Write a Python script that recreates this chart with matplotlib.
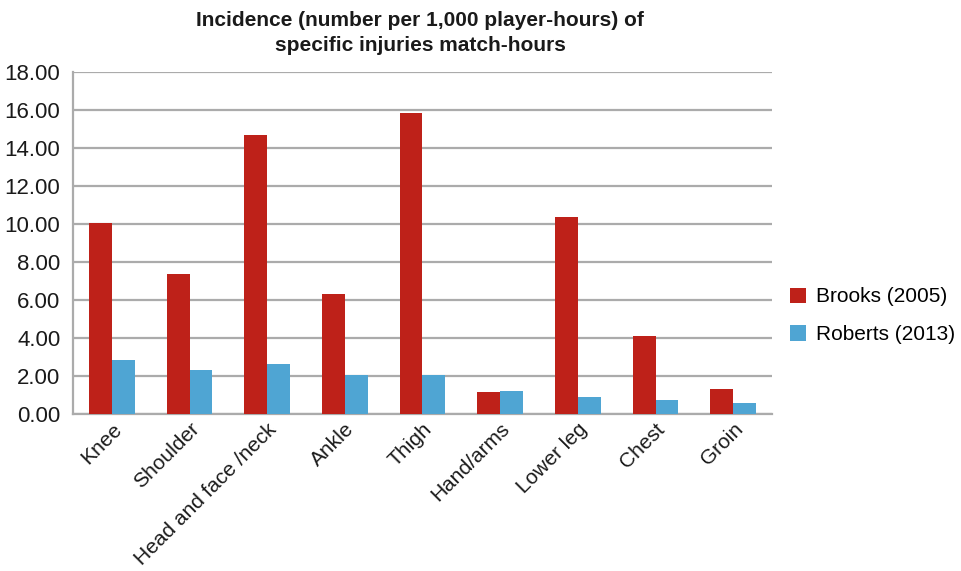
import numpy as np
import matplotlib.pyplot as plt

# Incidence of specific injuries per 1,000 match-hours
categories = ["Knee", "Shoulder", "Head and face /neck", "Ankle", "Thigh",
              "Hand/arms", "Lower leg", "Chest", "Groin"]
brooks_2005 = [10.03, 7.37, 14.67, 6.32, 15.84, 1.16, 10.37, 4.10, 1.32]
roberts_2013 = [2.84, 2.32, 2.63, 2.05, 2.05, 1.21, 0.89, 0.74, 0.58]
series_names = ["Brooks (2005)", "Roberts (2013)"]
y_ticks = [0, 2, 4, 6, 8, 10, 12, 14, 16, 18]

plt.rcParams['font.family'] = ['Liberation Sans', 'DejaVu Sans']

RED = '#BE2119'
BLUE = '#4FA5D3'
GRID = '#ABABAB'
TEXT = '#1a1a1a'

fig = plt.figure(figsize=(9.61, 5.71), dpi=100)
ax = fig.add_axes([73 / 961, 1 - 414 / 571, (772 - 73) / 961, (414 - 72) / 571])

x = np.arange(len(categories))
w = 0.296
ax.bar(x - w / 2, brooks_2005, width=w, color=RED, label=series_names[0], zorder=3)
ax.bar(x + w / 2, roberts_2013, width=w, color=BLUE, label=series_names[1], zorder=3)

ax.set_xlim(-0.5, len(categories) - 0.5)
ax.set_ylim(0, 18)
ax.set_yticks(y_ticks)
ax.set_yticklabels([f"{v:.2f}" for v in y_ticks], fontsize=16, color=TEXT)
ax.yaxis.grid(True, color=GRID, linewidth=1.6, zorder=0)
ax.set_axisbelow(True)

ax.set_xticks(x)
ax.set_xticklabels(categories, rotation=45, ha='right', rotation_mode='anchor',
                   fontsize=15, color=TEXT)
ax.tick_params(axis='both', length=0)
ax.tick_params(axis='y', pad=9)
ax.tick_params(axis='x', pad=4)

for side in ('top', 'right'):
    ax.spines[side].set_visible(False)
for side in ('left', 'bottom'):
    ax.spines[side].set_color(GRID)
    ax.spines[side].set_linewidth(1.6)

ax.legend(loc='center left', bbox_to_anchor=(1.026, 0.287), frameon=False,
          fontsize=15, handlelength=0.75, handleheight=0.75,
          handletextpad=0.5, labelspacing=0.9, borderpad=0, borderaxespad=0)

fig.text(420 / 961, 1 - 33 / 571,
         "Incidence (number per 1,000 player-hours) of\nspecific injuries match-hours",
         ha='center', va='center', fontsize=15, fontweight='bold',
         linespacing=1.35, color=TEXT)

fig.savefig('out.png', dpi=100)
